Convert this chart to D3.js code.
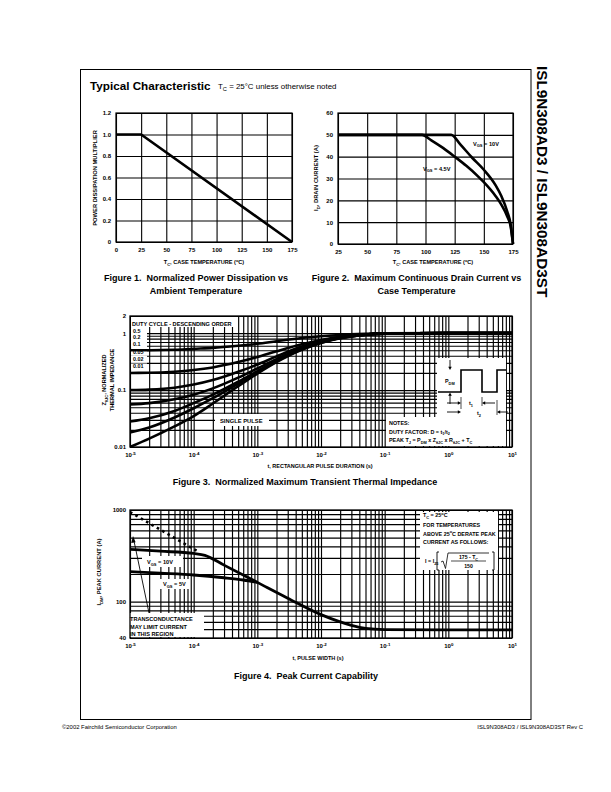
<!DOCTYPE html>
<html><head><meta charset="utf-8">
<script src="https://cdn.jsdelivr.net/npm/d3@7"></script>
<style>body{margin:0;background:#fff}svg{display:block}</style>
</head><body>
<script>
// ---------------- DATA ----------------
// Figure 1
const fig1XTicks = [0,25,50,75,100,125,150,175];
const fig1YTicks = [0,0.2,0.4,0.6,0.8,1.0,1.2];
const fig1Temp   = [0,25,175];
const fig1Mult   = [1.0,1.0,0];
// Figure 2
const fig2XTicks = [25,50,75,100,125,150,175];
const fig2YTicks = [0,10,20,30,40,50,60];
const fig2Temp10 = [25,122,130,140,150,160,165,170,173,175];
const fig2Id10   = [50,50,45.5,39.5,34,27,22,15,9,0];
const fig2Temp45 = [25,97,105,115,125,135,145,150,160,165,170,173,175];
const fig2Id45   = [50,50,47.5,44,40,35.8,31,28.3,22,18,12.7,8,0];
// Figure 3
const fig3XTicks = [1e-5,1e-4,1e-3,1e-2,1e-1,1,10];
const fig3YTicks = [0.01,0.1,1,2];
const fig3Time   = [1e-5,2e-5,5e-5,1e-4,2e-4,5e-4,1e-3,2e-3,5e-3,1e-2,2e-2,5e-2,1e-1,1,10];
const fig3Labels = ["0.5","0.2","0.1","0.05","0.02","0.01"];
const fig3Z050   = [0.5,0.5,0.51,0.53,0.55,0.6,0.65,0.72,0.82,0.88,0.93,0.97,0.99,1.0,1.0];
const fig3Z020   = [0.2,0.201,0.21,0.225,0.25,0.31,0.38,0.48,0.64,0.76,0.86,0.95,0.98,1.0,1.0];
const fig3Z010   = [0.1,0.102,0.11,0.125,0.15,0.21,0.28,0.39,0.58,0.72,0.84,0.94,0.98,1.0,1.0];
const fig3Z005   = [0.056,0.059,0.069,0.083,0.107,0.165,0.24,0.35,0.55,0.7,0.83,0.94,0.98,1.0,1.0];
const fig3Z002   = [0.028,0.032,0.043,0.059,0.083,0.14,0.215,0.33,0.53,0.69,0.82,0.94,0.98,1.0,1.0];
const fig3Z001   = [0.018,0.022,0.033,0.048,0.072,0.13,0.205,0.32,0.52,0.68,0.82,0.94,0.98,1.0,1.0];
const fig3ZSingle= [0.01,0.014,0.023,0.035,0.058,0.117,0.195,0.31,0.51,0.67,0.81,0.94,0.98,1.0,1.0];
// Figure 4
const fig4XTicks = [1e-5,1e-4,1e-3,1e-2,1e-1,1,10];
const fig4YTicks = [40,100,1000];
const fig4Time10 = [1e-5,3e-5,1e-4,1.5e-4,3e-4,1e-3,3e-3,1e-2,2e-2,3e-2,5e-2,1e-1,1,10];
const fig4I10    = [372,355,335,320,250,162,109,72,60,55,51,49.5,49,49];
const fig4Time5  = [1e-5,3e-5,1e-4,3e-4,6e-4,1e-3];
const fig4I5     = [212,204,195,182,172,162];
const fig4TimeGm = [1e-5,1.2e-4];
const fig4IGm    = [950,348];

// ---------------- SETUP ----------------
const FONT = '"Liberation Sans", Arial, Helvetica, sans-serif';
const svg = d3.select("body").append("svg").attr("width",611).attr("height",792)
  .style("font-family",FONT);
svg.append("rect").attr("width",611).attr("height",792).attr("fill","#fff");

function rich(g, x, y, parts, o={}) {
  const fs = o.size || 6;
  const t = g.append("text").attr("x",x).attr("y",y).attr("font-size",fs)
    .attr("font-weight", o.weight || "bold").attr("fill","#000")
    .attr("text-anchor", o.anchor || "start");
  if (o.rotate) t.attr("transform",`rotate(${o.rotate},${x},${y})`);
  let cur = 0;
  parts.forEach(p => {
    const s = typeof p === "string" ? p : p[0];
    const m = typeof p === "string" ? "" : p[1];
    let target = 0, size = fs;
    if (m === "sub") { target = fs*0.3; size = fs*0.72; }
    if (m === "sup") { target = -fs*0.4; size = fs*0.72; }
    t.append("tspan").attr("font-size",size).attr("dy",target-cur).text(s);
    cur = target;
  });
  return t;
}
function styleGrid(a, sw) {
  a.select(".domain").remove();
  a.selectAll(".tick line").attr("stroke","#000").attr("stroke-width",sw);
  a.selectAll(".tick text").remove();
}
function styleLab(a, size) {
  a.select(".domain").remove();
  a.selectAll(".tick line").remove();
  a.attr("font-family",FONT);
  a.selectAll(".tick text").attr("font-size",size||6).attr("font-weight","bold").attr("fill","#000");
}
function whiteBox(g,x,y,w,h){ g.append("rect").attr("x",x).attr("y",y).attr("width",w).attr("height",h).attr("fill","#fff"); }
function arrowHead(g, x, y, dir, s=3.2) {
  let pts;
  if (dir==="down") pts=[[x,y],[x-s*0.55,y-s],[x+s*0.55,y-s]];
  if (dir==="up") pts=[[x,y],[x-s*0.55,y+s],[x+s*0.55,y+s]];
  if (dir==="right") pts=[[x,y],[x-s,y-s*0.55],[x-s,y+s*0.55]];
  if (dir==="left") pts=[[x,y],[x+s,y-s*0.55],[x+s,y+s*0.55]];
  g.append("path").attr("d","M"+pts.map(p=>p.join(",")).join("L")+"Z").attr("fill","#000");
}

// ---------------- PAGE FRAME & HEADER ----------------
svg.append("rect").attr("x",80.5).attr("y",69.5).attr("width",450.5).attr("height",650)
  .attr("fill","none").attr("stroke","#000").attr("stroke-width",1);
svg.append("text").attr("x",90).attr("y",90).attr("font-size",11.7).attr("font-weight","bold")
  .text("Typical Characteristic");
rich(svg, 218, 89, ["T",["C","sub"]," = 25°C unless otherwise noted"], {size:7.9, weight:"normal"});
svg.append("text").attr("x",536.5).attr("y",66).attr("font-size",15.3).attr("font-weight","bold")
  .attr("transform","rotate(90,536.5,66)").text("ISL9N308AD3 / ISL9N308AD3ST");
svg.append("text").attr("x",62).attr("y",729).attr("font-size",5.9).text("©2002 Fairchild Semiconductor Corporation");
svg.append("text").attr("x",583).attr("y",729).attr("font-size",5.9).attr("text-anchor","end").text("ISL9N308AD3 / ISL9N308AD3ST Rev C");

// ---------------- LINEAR FIGURES ----------------
function linFig(o) {
  const x = d3.scaleLinear().domain(o.xd).range([o.l,o.r]);
  const y = d3.scaleLinear().domain(o.yd).range([o.b,o.t]);
  const g = svg.append("g");
  g.append("g").attr("transform",`translate(0,${o.b})`)
    .call(d3.axisBottom(x).tickValues(o.xt).tickSize(-(o.b-o.t)).tickFormat(""))
    .call(a=>styleGrid(a,1.1));
  g.append("g").attr("transform",`translate(${o.l},0)`)
    .call(d3.axisLeft(y).tickValues(o.yt).tickSize(-(o.r-o.l)).tickFormat(""))
    .call(a=>styleGrid(a,1.1));
  g.append("g").attr("transform",`translate(0,${o.b})`)
    .call(d3.axisBottom(x).tickValues(o.xt).tickSize(0).tickPadding(6).tickFormat(o.xf))
    .call(a=>styleLab(a,6));
  g.append("g").attr("transform",`translate(${o.l},0)`)
    .call(d3.axisLeft(y).tickValues(o.yt).tickSize(0).tickPadding(5).tickFormat(o.yf))
    .call(a=>styleLab(a,6));
  g.append("rect").attr("x",o.l).attr("y",o.t).attr("width",o.r-o.l).attr("height",o.b-o.t)
    .attr("fill","none").attr("stroke","#000").attr("stroke-width",1.2);
  return {x,y,g};
}
function caption(g, x, y, s) {
  g.append("text").attr("x",x).attr("y",y).attr("text-anchor","middle").attr("font-size",9)
    .attr("font-weight","bold").style("white-space","pre").text(s);
}

// Figure 1
{
  const f = linFig({l:116,r:292,t:113,b:242,xd:[0,175],yd:[0,1.2],xt:fig1XTicks,yt:fig1YTicks,
    xf:d=>d, yf:d=>d===0?"0":d.toFixed(1)});
  const line = d3.line().x((d,i)=>f.x(fig1Temp[i])).y((d,i)=>f.y(fig1Mult[i]));
  f.g.append("path").attr("d",line(fig1Temp)).attr("fill","none").attr("stroke","#000").attr("stroke-width",2.6);
  rich(f.g, 96.5, 178, ["POWER DISSIPATION MULTIPLIER"], {size:5.8, anchor:"middle", rotate:-90});
  rich(f.g, 204, 264, ["T",["C","sub"],", CASE TEMPERATURE (",["o","sup"],"C)"], {size:5.6, anchor:"middle"});
  caption(f.g, 196, 281, "Figure 1.  Normalized Power Dissipation vs");
  caption(f.g, 196, 293.5, "Ambient Temperature");
}
// Figure 2
{
  const f = linFig({l:338,r:513,t:113,b:244,xd:[25,175],yd:[0,60],xt:fig2XTicks,yt:fig2YTicks,
    xf:d=>d, yf:d=>d});
  const l10 = d3.line().curve(d3.curveMonotoneX).x((d,i)=>f.x(fig2Temp10[i])).y((d,i)=>f.y(fig2Id10[i]));
  const l45 = d3.line().curve(d3.curveMonotoneX).x((d,i)=>f.x(fig2Temp45[i])).y((d,i)=>f.y(fig2Id45[i]));
  f.g.append("path").attr("d",l45(fig2Temp45)).attr("fill","none").attr("stroke","#000").attr("stroke-width",2.6);
  f.g.append("path").attr("d",l10(fig2Temp10)).attr("fill","none").attr("stroke","#000").attr("stroke-width",2.6);
  rich(f.g, 473, 145.5, ["V",["GS","sub"]," = 10V"], {size:5.6});
  rich(f.g, 423, 170.5, ["V",["GS","sub"]," = 4.5V"], {size:5.6});
  rich(f.g, 318, 178, ["I",["D","sub"],", DRAIN CURRENT (A)"], {size:5.8, anchor:"middle", rotate:-90});
  rich(f.g, 433, 264, ["T",["C","sub"],", CASE TEMPERATURE (",["o","sup"],"C)"], {size:5.6, anchor:"middle"});
  caption(f.g, 416.5, 281, "Figure 2.  Maximum Continuous Drain Current vs");
  caption(f.g, 416.5, 293.5, "Case Temperature");
}

// ---------------- LOG FIGURES ----------------
function minorLog(lo, hi) {
  const v = [];
  for (let d = Math.floor(Math.log10(lo)); d <= Math.ceil(Math.log10(hi)); d++)
    for (let k = 1; k <= 9; k++) { const val = +(k*Math.pow(10,d)).toPrecision(3); if (val >= lo*0.999 && val <= hi*1.001) v.push(val); }
  return v;
}
function logFig(o) {
  const x = d3.scaleLog().domain(o.xd).range([o.l,o.r]);
  const y = d3.scaleLog().domain(o.yd).range([o.b,o.t]);
  const g = svg.append("g");
  g.append("g").attr("transform",`translate(0,${o.b})`)
    .call(d3.axisBottom(x).tickValues(minorLog(o.xd[0],o.xd[1])).tickSize(-(o.b-o.t)).tickFormat(""))
    .call(a=>styleGrid(a,1.15));
  g.append("g").attr("transform",`translate(${o.l},0)`)
    .call(d3.axisLeft(y).tickValues(minorLog(o.yd[0],o.yd[1])).tickSize(-(o.r-o.l)).tickFormat(""))
    .call(a=>styleGrid(a,1.15));
  const xa = g.append("g").attr("transform",`translate(0,${o.b})`)
    .call(d3.axisBottom(x).tickValues(o.xt).tickSize(0).tickPadding(6))
    .call(a=>styleLab(a,6));
  xa.selectAll(".tick text").each(function(d){
    const t = d3.select(this); t.text("10");
    t.append("tspan").attr("font-size",4.4).attr("dy",-2.6).text(Math.round(Math.log10(d)));
  });
  g.append("g").attr("transform",`translate(${o.l},0)`)
    .call(d3.axisLeft(y).tickValues(o.yt).tickSize(0).tickPadding(4).tickFormat(d=>String(d)))
    .call(a=>styleLab(a,6));
  const id = "clip"+Math.random().toString(36).slice(2);
  g.append("clipPath").attr("id",id).append("rect").attr("x",o.l).attr("y",o.t).attr("width",o.r-o.l).attr("height",o.b-o.t);
  const frame = () => g.append("rect").attr("x",o.l).attr("y",o.t).attr("width",o.r-o.l).attr("height",o.b-o.t)
    .attr("fill","none").attr("stroke","#000").attr("stroke-width",1.3);
  return {x,y,g,clip:`url(#${id})`,frame};
}

// Figure 3
{
  const f = logFig({l:130,r:512,t:316,b:447,xd:[1e-5,10],yd:[0.01,2],xt:fig3XTicks,yt:fig3YTicks});
  whiteBox(f.g,131,317,106,10);
  fig3Labels.forEach((s,i)=>whiteBox(f.g,131,[327.5,334,341,349,356,363.5][i],16,6.5));
  whiteBox(f.g,215,414,54,12);
  whiteBox(f.g,437,358,69,88);
  whiteBox(f.g,386,417,120,29);
  const series = [fig3Z050,fig3Z020,fig3Z010,fig3Z005,fig3Z002,fig3Z001,fig3ZSingle];
  series.forEach(s=>{
    const ln = d3.line().curve(d3.curveMonotoneX).x((d,i)=>f.x(fig3Time[i])).y((d,i)=>f.y(s[i]));
    f.g.append("path").attr("d",ln(fig3Time)).attr("clip-path",f.clip).attr("fill","none")
      .attr("stroke","#000").attr("stroke-width",2.6);
  });
  f.frame();
  rich(f.g, 132, 325.5, ["DUTY CYCLE - DESCENDING ORDER"], {size:5.6});
  fig3Labels.forEach((s,i)=>rich(f.g, 133, [332.5,339,345.5,353.5,360.5,368][i], [s], {size:5.4}));
  rich(f.g, 220, 422.5, ["SINGLE PULSE"], {size:5.8});
  rich(f.g, 389, 425, ["NOTES:"], {size:5.4});
  rich(f.g, 389, 433.5, ["DUTY FACTOR: D = t",["1","sub"],"/t",["2","sub"]], {size:5.4});
  rich(f.g, 389, 442, ["PEAK T",["J","sub"]," = P",["DM","sub"]," x Z",["θJC","sub"]," x R",["θJC","sub"]," + T",["C","sub"]], {size:5.4});
  const wf = f.g.append("g");
  wf.append("path").attr("d","M438,392 H461 V370 H482 V392 H497 V370 H506")
    .attr("fill","none").attr("stroke","#000").attr("stroke-width",1.6);
  wf.append("line").attr("x1",450).attr("x2",450).attr("y1",360).attr("y2",368).attr("stroke","#000").attr("stroke-width",0.9);
  arrowHead(wf,450,370,"down");
  wf.append("line").attr("x1",450).attr("x2",450).attr("y1",404).attr("y2",395).attr("stroke","#000").attr("stroke-width",0.9);
  arrowHead(wf,450,392.5,"up");
  rich(wf, 445, 383, ["P",["DM","sub"]], {size:5.4});
  wf.append("line").attr("x1",447).attr("x2",459).attr("y1",403).attr("y2",403).attr("stroke","#000").attr("stroke-width",0.9);
  arrowHead(wf,461,403,"right");
  wf.append("line").attr("x1",484).attr("x2",495).attr("y1",403).attr("y2",403).attr("stroke","#000").attr("stroke-width",0.9);
  arrowHead(wf,482,403,"left");
  wf.append("line").attr("x1",461).attr("x2",461).attr("y1",397).attr("y2",409).attr("stroke","#000").attr("stroke-width",0.7);
  wf.append("line").attr("x1",482).attr("x2",482).attr("y1",397).attr("y2",406).attr("stroke","#000").attr("stroke-width",0.7);
  rich(wf, 469, 405, ["t",["1","sub"]], {size:5.4});
  wf.append("line").attr("x1",447).attr("x2",459).attr("y1",412).attr("y2",412).attr("stroke","#000").attr("stroke-width",0.9);
  arrowHead(wf,461,412,"right");
  wf.append("line").attr("x1",499).attr("x2",508).attr("y1",412).attr("y2",412).attr("stroke","#000").attr("stroke-width",0.9);
  arrowHead(wf,497,412,"left");
  wf.append("line").attr("x1",497).attr("x2",497).attr("y1",400).attr("y2",415).attr("stroke","#000").attr("stroke-width",0.7);
  rich(wf, 477, 415, ["t",["2","sub"]], {size:5.4});
  rich(f.g, 106, 380, ["Z",["θJC","sub"],", NORMALIZED"], {size:5.6, anchor:"middle", rotate:-90});
  rich(f.g, 113.5, 380, ["THERMAL IMPEDANCE"], {size:5.6, anchor:"middle", rotate:-90});
  rich(f.g, 320, 468, ["t, RECTANGULAR PULSE DURATION (s)"], {size:5.5, anchor:"middle"});
  caption(f.g, 305, 485, "Figure 3.  Normalized Maximum Transient Thermal Impedance");
}

// Figure 4
{
  const f = logFig({l:130,r:512,t:510,b:638,xd:[1e-5,10],yd:[40,1000],xt:fig4XTicks,yt:fig4YTicks});
  whiteBox(f.g,420,512,78,58);
  whiteBox(f.g,142,556,41,11);
  whiteBox(f.g,160,579,29,10);
  whiteBox(f.g,126,613,78,24);
  const l10 = d3.line().curve(d3.curveMonotoneX).x((d,i)=>f.x(fig4Time10[i])).y((d,i)=>f.y(fig4I10[i]));
  const l5  = d3.line().curve(d3.curveMonotoneX).x((d,i)=>f.x(fig4Time5[i])).y((d,i)=>f.y(fig4I5[i]));
  const lg  = d3.line().x((d,i)=>f.x(fig4TimeGm[i])).y((d,i)=>f.y(fig4IGm[i]));
  f.g.append("path").attr("d",l10(fig4Time10)).attr("clip-path",f.clip).attr("fill","none").attr("stroke","#000").attr("stroke-width",2.8);
  f.g.append("path").attr("d",l5(fig4Time5)).attr("clip-path",f.clip).attr("fill","none").attr("stroke","#000").attr("stroke-width",2.8);
  f.g.append("path").attr("d",lg(fig4TimeGm)).attr("clip-path",f.clip).attr("fill","none").attr("stroke","#000")
    .attr("stroke-width",2.6).attr("stroke-dasharray","2.6,3.6");
  f.frame();
  f.g.append("line").attr("x1",149).attr("y1",613).attr("x2",134).attr("y2",541).attr("stroke","#000").attr("stroke-width",0.9);
  f.g.append("path").attr("d","M133,536 L131.2,543 L135.6,542.2 Z").attr("fill","#000");
  rich(f.g, 130, 621, ["TRANSCONDUCTANCE"], {size:5.6});
  rich(f.g, 130, 628.5, ["MAY LIMIT CURRENT"], {size:5.6});
  rich(f.g, 130, 636, ["IN THIS REGION"], {size:5.6});
  rich(f.g, 147, 564, ["V",["GS","sub"]," = 10V"], {size:5.6});
  rich(f.g, 163, 586, ["V",["GS","sub"]," = 5V"], {size:5.6});
  rich(f.g, 423, 517, ["T",["C","sub"]," = 25",["o","sup"],"C"], {size:5.4});
  rich(f.g, 423, 527, ["FOR TEMPERATURES"], {size:5.4});
  rich(f.g, 423, 535.5, ["ABOVE 25",["o","sup"],"C DERATE PEAK"], {size:5.4});
  rich(f.g, 423, 544, ["CURRENT AS FOLLOWS:"], {size:5.4});
  rich(f.g, 425, 563, ["I = I",["25","sub"]], {size:5.4});
  const fm = f.g.append("g").attr("fill","none").attr("stroke","#000");
  fm.append("path").attr("d","M439,552 H437 V570 H439").attr("stroke-width",0.9);
  fm.append("path").attr("d","M492,552 H494 V570 H492").attr("stroke-width",0.9);
  fm.append("path").attr("d","M441,562 L443,561 L445.5,568.5 L448,553 H489").attr("stroke-width",0.8);
  fm.append("line").attr("x1",451).attr("x2",486).attr("y1",561).attr("y2",561).attr("stroke-width",0.7);
  rich(f.g, 468.5, 559, ["175 - T",["C","sub"]], {size:5.2, anchor:"middle"});
  rich(f.g, 468.5, 568, ["150"], {size:5.2, anchor:"middle"});
  rich(f.g, 101, 572, ["I",["DM","sub"],", PEAK CURRENT (A)"], {size:5.8, anchor:"middle", rotate:-90});
  rich(f.g, 318, 660, ["t, PULSE WIDTH (s)"], {size:5.5, anchor:"middle"});
  caption(f.g, 306, 679, "Figure 4.  Peak Current Capability");
}
</script>
</body></html>
